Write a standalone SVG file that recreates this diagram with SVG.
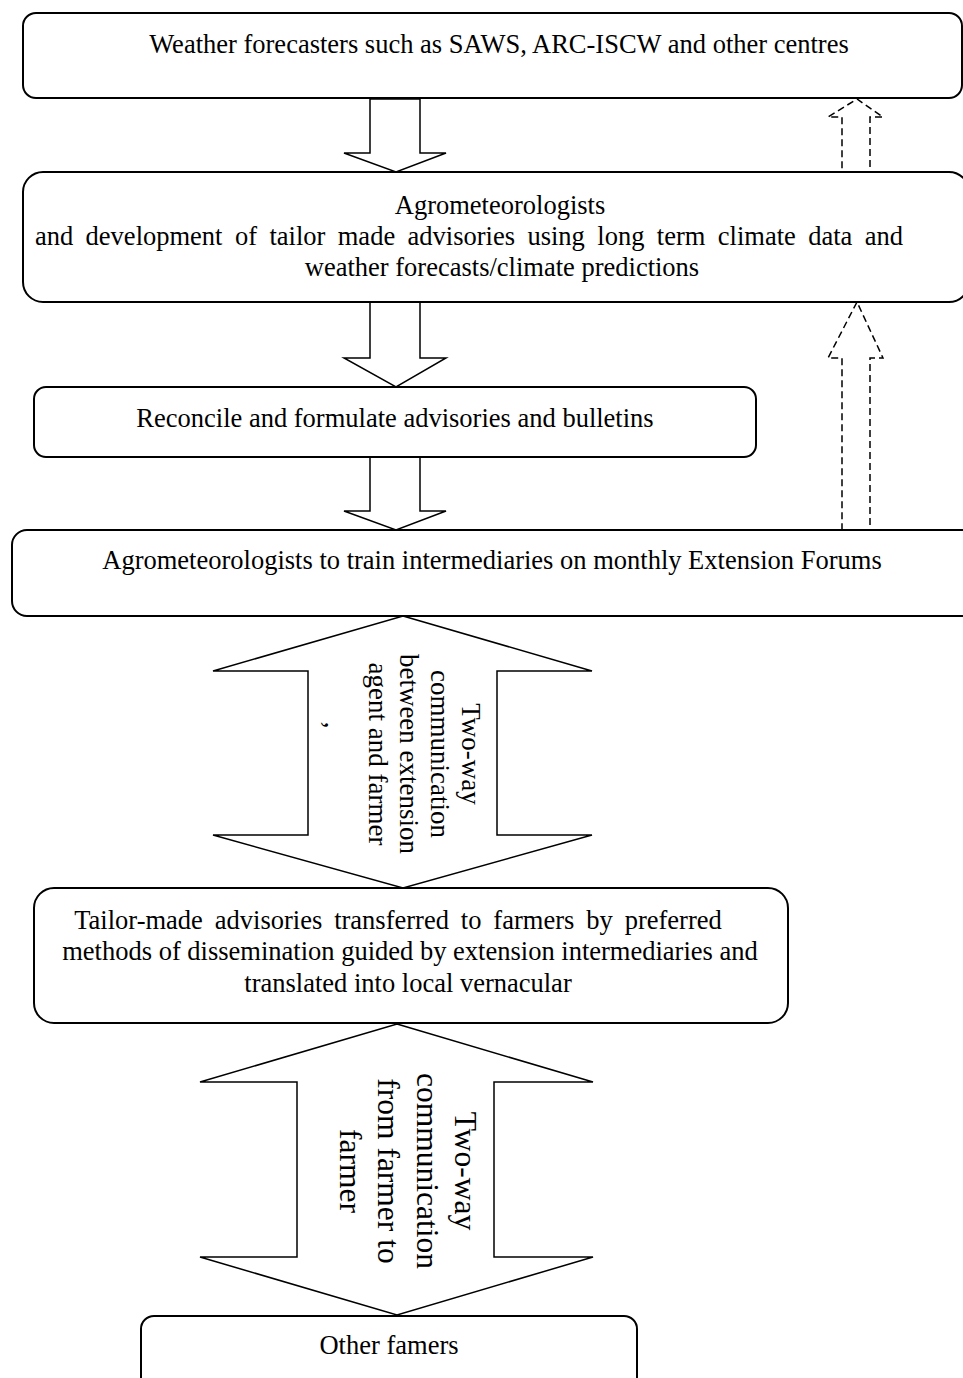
<svg xmlns="http://www.w3.org/2000/svg" width="963" height="1378" viewBox="0 0 963 1378">
<style>
.box{fill:#fff;stroke:#000;stroke-width:2}
.arr{fill:#fff;stroke:#000;stroke-width:1.5;stroke-linejoin:miter}
.dash{fill:none;stroke:#000;stroke-width:1.5;stroke-dasharray:7 4}
text{font-family:"Liberation Serif","Times New Roman",serif;fill:#000}
.t{font-size:26.5px;text-anchor:middle}
.v1{font-size:27px;text-anchor:middle}
.v2{font-size:31.5px;text-anchor:middle}
</style>
<rect width="963" height="1378" fill="#fff"/>
<g id="connectors">
<polygon class="arr" points="370,99 420,99 420,153 446,153 396,172 344,153 370,153"/>
<polygon class="arr" points="370,302 420,302 420,358 446,358 396,387 344,358 370,358"/>
<polygon class="arr" points="370,457 420,457 420,511 446,511 396,530 344,511 370,511"/>
<polygon class="dash" points="842,172 870,172 870,117 883,117 857,99 828,117 842,117"/>
<polygon class="dash" points="842,530 870,530 870,358 883,358 857,302 828,358 842,358"/>
<g id="twoway1">
<polygon class="arr" points="403,616 592,671 497,671 497,835 592,835 403,888 213,835 308,835 308,671 213,671"/>
<text class="v1" transform="translate(462,754) rotate(90)"><tspan x="0" y="0">Two-way</tspan><tspan x="0" y="31">communication</tspan><tspan x="0" y="62">between extension</tspan><tspan x="0" y="93">agent and farmer</tspan></text>
<text class="v1" transform="translate(325,725) rotate(90)" x="0" y="0">,</text>
</g>
<g id="twoway2">
<polygon class="arr" points="397,1024 593,1082 494,1082 494,1257 593,1257 397,1315 200,1257 297,1257 297,1082 200,1082"/>
<text class="v2" transform="translate(455,1171) rotate(90)"><tspan x="0" y="0">Two-way</tspan><tspan x="0" y="38.5">communication</tspan><tspan x="0" y="77">from farmer to</tspan><tspan x="0" y="115.5">farmer</tspan></text>
</g>
</g>
<g id="n1">
<rect class="box" x="23" y="13" width="939" height="85" rx="13"/>
<text class="t" x="499" y="53">Weather forecasters such as SAWS, ARC-ISCW and other centres</text>
</g>
<g id="n2">
<rect class="box" x="23" y="172" width="946" height="130" rx="20"/>
<text class="t" x="500" y="214">Agrometeorologists</text>
<text class="t" x="469" y="245" word-spacing="5.8">and development of tailor made advisories using long term climate data and</text>
<text class="t" x="502" y="276">weather forecasts/climate predictions</text>
</g>
<g id="n3">
<rect class="box" x="34" y="387" width="722" height="70" rx="12"/>
<text class="t" x="395" y="427">Reconcile and formulate advisories and bulletins</text>
</g>
<g id="n4">
<rect class="box" x="12" y="530" width="970" height="86" rx="15"/>
<text class="t" x="492" y="569">Agrometeorologists to train intermediaries on monthly Extension Forums</text>
</g>
<g id="n5">
<rect class="box" x="34" y="888" width="754" height="135" rx="20"/>
<text class="t" x="398" y="929" word-spacing="5.3">Tailor-made advisories transferred to farmers by preferred</text>
<text class="t" x="410" y="960">methods of dissemination guided by extension intermediaries and</text>
<text class="t" x="408" y="992">translated into local vernacular</text>
</g>
<g id="n6">
<rect class="box" x="141" y="1316" width="496" height="80" rx="13"/>
<text class="t" x="389" y="1354">Other famers</text>
</g>
</svg>
